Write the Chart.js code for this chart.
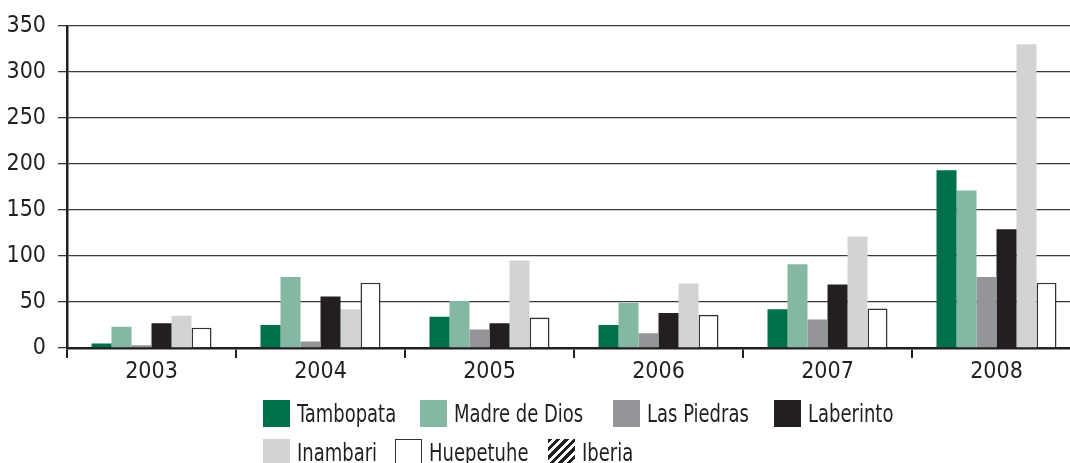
<!DOCTYPE html>
<html>
<head>
<meta charset="utf-8">
<script src="https://cdn.jsdelivr.net/npm/chart.js@4/dist/chart.umd.min.js"></script>
<style>
  html, body { margin: 0; padding: 0; background: #fff; overflow: hidden; }
  #wrap { position: relative; width: 1070px; height: 463px; overflow: hidden; }
  #chart { position: absolute; left: 0; top: 0; }
  #legend {
    position: absolute; left: 0; top: 400px; width: 1070px; height: 63px;
    font-family: "DejaVu Sans Condensed", "Liberation Sans Narrow", sans-serif;
    font-size: 25px; color: #231f20;
  }
  .litem { position: absolute; display: flex; align-items: center; height: 27px; white-space: nowrap; }
  .sw { width: 27px; height: 27px; margin-right: 7px; box-sizing: border-box; flex: none; }
  .litem span { display: inline-block; transform: scaleX(0.8); transform-origin: left center; }
</style>
</head>
<body>
<div id="wrap">
  <canvas id="chart" width="1085" height="463"></canvas>
  <div id="legend"></div>
</div>
<script>
/* ── data ── */
const YEARS       = ['2003', '2004', '2005', '2006', '2007', '2008'];
const TAMBOPATA   = [5, 25, 34, 25, 42, 193];
const MADRE_DIOS  = [23, 77, 51, 49, 91, 171];
const LAS_PIEDRAS = [3, 7, 20, 16, 31, 77];
const LABERINTO   = [27, 56, 27, 38, 69, 129];
const INAMBARI    = [35, 42, 95, 70, 121, 330];
const HUEPETUHE   = [22, 71, 33, 36, 43, 71];
const Y_TICKS     = [0, 50, 100, 150, 200, 250, 300, 350];

const FONT = '"DejaVu Sans Condensed", "Liberation Sans Narrow", sans-serif';
const INK = '#231f20';

const SERIES = [
  { label: 'Tambopata',     data: TAMBOPATA,   color: '#00704a' },
  { label: 'Madre de Dios', data: MADRE_DIOS,  color: '#84b8a2' },
  { label: 'Las Piedras',   data: LAS_PIEDRAS, color: '#939598' },
  { label: 'Laberinto',     data: LABERINTO,   color: INK },
  { label: 'Inambari',      data: INAMBARI,    color: '#d1d3d4' },
  { label: 'Huepetuhe',     data: HUEPETUHE,   color: '#ffffff', border: '#333' },
];

new Chart(document.getElementById('chart'), {
  type: 'bar',
  data: {
    labels: YEARS,
    datasets: SERIES.map(s => ({
      label: s.label,
      data: s.data,
      backgroundColor: s.color,
      borderColor: s.border || s.color,
      borderWidth: s.border ? 1.6 : 0,
      borderSkipped: 'bottom',
      categoryPercentage: 0.71,
      barPercentage: 1,
    }))
  },
  options: {
    responsive: false, animation: false,
    layout: { padding: { top: 24, left: 0, right: 4, bottom: 79 } },
    plugins: { legend: { display: false }, tooltip: { enabled: false } },
    scales: {
      x: {
        afterFit: s => { s.height = 36; },
        grid: { drawOnChartArea: false, color: INK, lineWidth: 2, tickLength: 10 },
        border: { color: INK, width: 2.5 },
        ticks: { color: INK, font: { family: FONT, size: 23 }, padding: 0 }
      },
      y: {
        min: 0, max: 350,
        afterFit: s => { s.width = 67; },
        afterBuildTicks: s => { s.ticks = Y_TICKS.map(v => ({ value: v })); },
        grid: { color: '#3a3a3a', lineWidth: 1.3, tickLength: 9 },
        border: { color: INK, width: 2.5 },
        ticks: { color: INK, font: { family: FONT, size: 23 }, padding: 12 }
      }
    }
  }
});

/* ── legend: two rows, Iberia appears only here ── */
const LEGEND_ITEMS = [
  ['Tambopata', 263, 0], ['Madre de Dios', 420, 0], ['Las Piedras', 613, 0], ['Laberinto', 774, 0],
  ['Inambari', 263, 39], ['Huepetuhe', 395, 39], ['Iberia', 548, 39],
];
function swatchStyle(name) {
  if (name === 'Iberia') return `background:repeating-linear-gradient(135deg, ${INK} 0 3px, #fff 3px 6px)`;
  const s = SERIES.find(x => x.label === name);
  return s.border ? `background:#fff;border:1.6px solid ${s.border}` : `background:${s.color}`;
}
document.getElementById('legend').innerHTML = LEGEND_ITEMS.map(([n, x, y]) =>
  `<div class="litem" style="left:${x}px;top:${y}px"><div class="sw" style="${swatchStyle(n)}"></div><span>${n}</span></div>`
).join('');
</script>
</body>
</html>
